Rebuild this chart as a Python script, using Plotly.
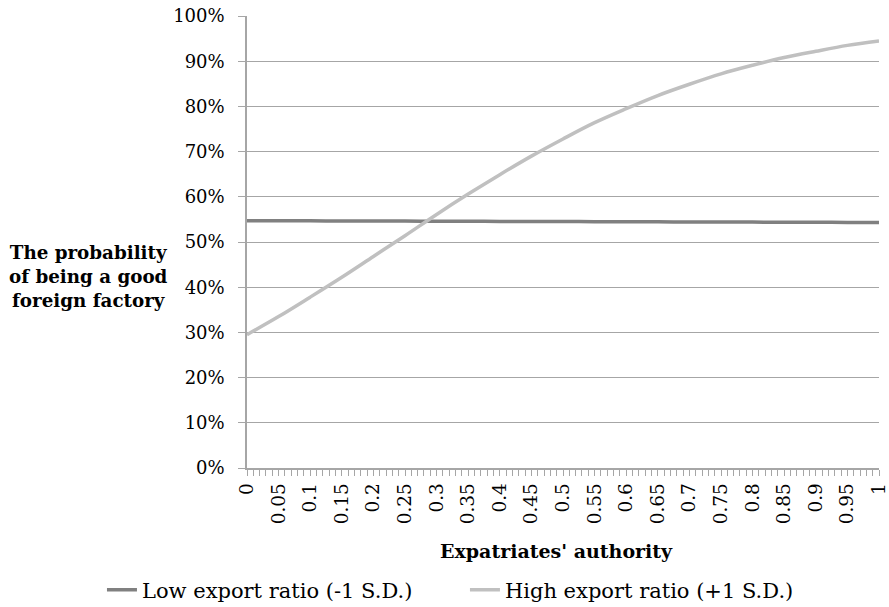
import plotly.graph_objects as go

authority = [0, 0.05, 0.1, 0.15, 0.2, 0.25, 0.3, 0.35, 0.4, 0.45, 0.5,
             0.55, 0.6, 0.65, 0.7, 0.75, 0.8, 0.85, 0.9, 0.95, 1]
low_export = [0.547, 0.547, 0.5468, 0.5466, 0.5464, 0.5462, 0.546, 0.5458, 0.5456, 0.5454, 0.5452,
              0.545, 0.5448, 0.5446, 0.5444, 0.5442, 0.544, 0.5438, 0.5436, 0.5434, 0.5432]
high_export = [0.295, 0.335, 0.378, 0.422, 0.468, 0.514, 0.561, 0.606, 0.649, 0.690, 0.728,
               0.764, 0.795, 0.824, 0.849, 0.872, 0.891, 0.908, 0.922, 0.935, 0.945]
tick_vals = [0, 0.05, 0.1, 0.15, 0.2, 0.25, 0.3, 0.35, 0.4, 0.45, 0.5,
             0.55, 0.6, 0.65, 0.7, 0.75, 0.8, 0.85, 0.9, 0.95, 1]
tick_text = ["0", "0.05", "0.1", "0.15", "0.2", "0.25", "0.3", "0.35", "0.4", "0.45", "0.5",
             "0.55", "0.6", "0.65", "0.7", "0.75", "0.8", "0.85", "0.9", "0.95", "1"]

FONT = "DejaVu Serif"
fig = go.Figure()
fig.add_trace(go.Scatter(x=authority, y=low_export, mode="lines", name="Low export ratio (-1 S.D.)",
                         line=dict(color="#808080", width=3.5, shape="spline"), legend="legend"))
fig.add_trace(go.Scatter(x=authority, y=high_export, mode="lines", name="High export ratio (+1 S.D.)",
                         line=dict(color="#c0c0c0", width=3.5, shape="spline"), legend="legend2"))

leg_common = dict(orientation="h", xref="container", xanchor="left",
                  y=0.028, yref="container", yanchor="middle",
                  font=dict(family=FONT, size=21), itemwidth=30, bgcolor="rgba(0,0,0,0)")

fig.update_layout(
    width=889, height=607,
    margin=dict(l=247, r=10, t=16, b=139),
    paper_bgcolor="white", plot_bgcolor="white",
    font=dict(family=FONT, size=18, color="black"),
    showlegend=True,
    legend=dict(x=0.1147, **leg_common),
    legend2=dict(x=0.523, **leg_common),
    xaxis=dict(range=[0, 1], tickmode="array", tickvals=tick_vals, ticktext=tick_text,
               tickangle=-90, ticks="outside", ticklen=6, tickcolor="#a6a6a6", automargin=False,
               ticklabeloverflow="allow",
               showline=True, linecolor="#a6a6a6", linewidth=1.5, showgrid=False, zeroline=False,
               minor=dict(dtick=0.01, tick0=0, ticks="outside", ticklen=6, tickcolor="#a6a6a6", showgrid=False),
               tickfont=dict(family=FONT, size=18.5)),
    yaxis=dict(range=[0, 1], dtick=0.1, tickformat=".0%", ticks="outside", ticklen=7, automargin=False,
               tickcolor="#a6a6a6", showline=True, linecolor="#a6a6a6", linewidth=1.5,
               showgrid=True, gridcolor="#a6a6a6", gridwidth=1.2, zeroline=False,
               ticklabelstandoff=10, tickfont=dict(family=FONT, size=18)),
)
fig.add_annotation(text="<b>The probability<br>of being a good<br>foreign factory</b>",
                   xref="paper", yref="paper", x=(88 - 247) / 632, y=0.4226,
                   xanchor="center", yanchor="middle",
                   showarrow=False, align="center", font=dict(family=FONT, size=18.3))
fig.add_annotation(text="<b>Expatriates' authority</b>",
                   xref="paper", yref="paper", x=0.4905, y=-0.1836,
                   xanchor="center", yanchor="middle",
                   showarrow=False, font=dict(family=FONT, size=19))

fig.write_html("out.html", config={"displayModeBar": False},
               post_script="document.body.style.margin='0';")
